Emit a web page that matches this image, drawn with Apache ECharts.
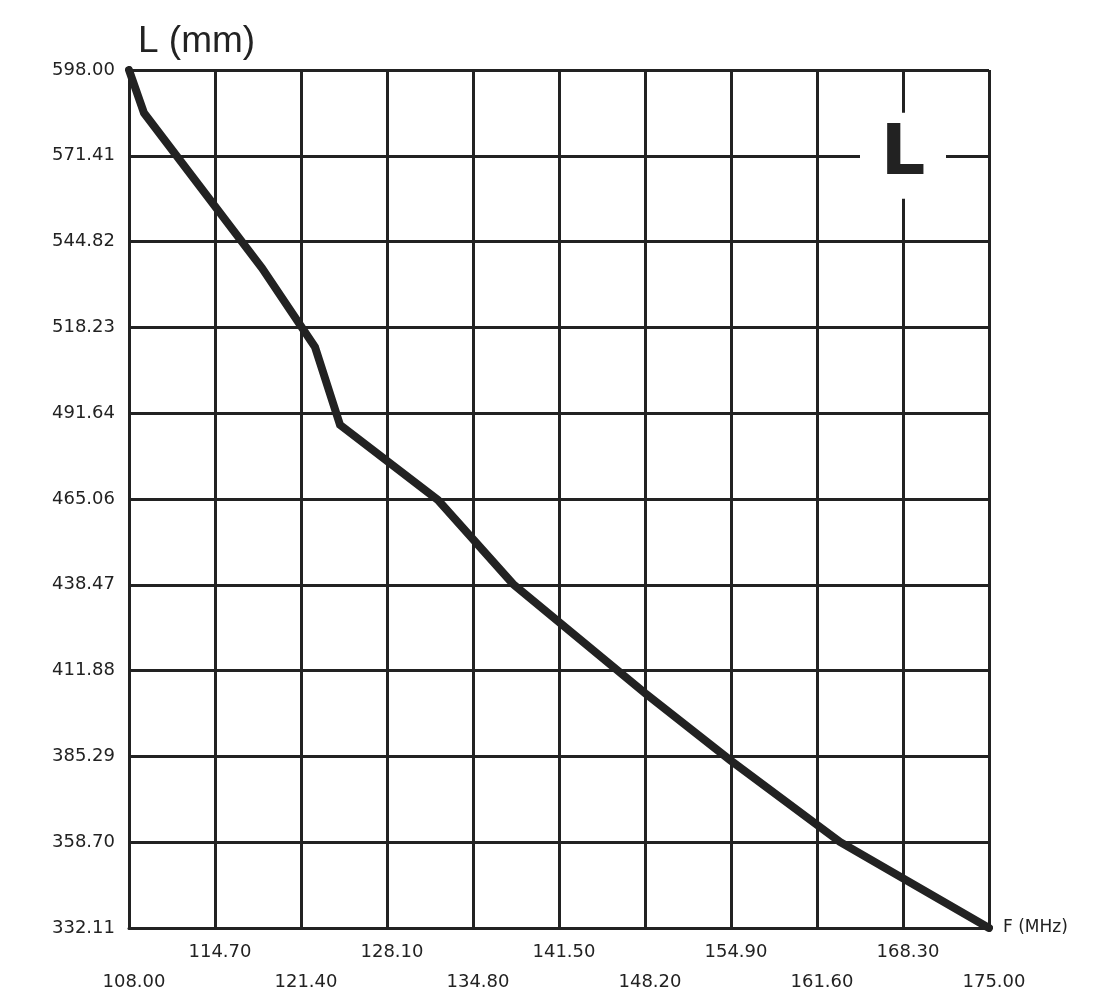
<!DOCTYPE html>
<html lang="en">
  <head>
    <meta charset="UTF-8" />
    <title>L vs F</title>
    <script src="https://cdn.jsdelivr.net/npm/echarts@6.0.0/dist/echarts.min.js"></script>
    <style>
      html, body { margin: 0; padding: 0; background: #fff; }
      #main { width: 1095px; height: 1000px; }
    </style>
  </head>
  <body>
    <div id="main"></div>

    <script>
      // F (MHz) and L (mm)
      const freq = [108.0, 109.17, 118.36, 122.49, 124.44, 132.07, 137.92, 148.2, 154.82, 163.39, 175.0];
      const length = [598.0, 584.67, 536.64, 512.16, 488.0, 464.74, 438.71, 404.93, 384.17, 358.76, 332.11];

      const xMin = 108.0, xMax = 175.0, xStep = 6.7;
      const yMin = 332.11, yMax = 598.0, yStep = 26.589;

      const ink = '#222222';
      const labelFont = '"DejaVu Sans", sans-serif';

      const gridLine = { show: true, lineStyle: { color: ink, width: 3 } };

      function xAxisRow(showOdd, offset) {
        return {
          type: 'value',
          min: xMin,
          max: xMax,
          interval: xStep,
          position: 'bottom',
          offset: offset,
          axisLine: { show: !offset, lineStyle: { color: ink, width: 3 } },
          axisTick: { show: false },
          splitLine: offset ? { show: false } : gridLine,
          axisLabel: {
            show: true,
            margin: 15,
            color: ink,
            fontSize: 18,
            fontFamily: labelFont,
            padding: [0, 0, 0, 10],
            showMinLabel: true,
            showMaxLabel: true,
            formatter: function (v) {
              const i = Math.round((v - xMin) / xStep);
              return (i % 2 === 1) === showOdd ? v.toFixed(2) : '';
            },
          },
        };
      }

      const options = {
        animation: false,
        backgroundColor: '#ffffff',
        grid: { left: 129, right: 106, top: 70, bottom: 72 },
        xAxis: [
          Object.assign(xAxisRow(true, 0), {
            name: 'F (MHz)',
            nameLocation: 'end',
            nameGap: 14,
            nameTextStyle: { color: ink, fontSize: 17, fontFamily: labelFont, verticalAlign: 'middle', padding: [0, 0, 0, 0] },
          }),
          xAxisRow(false, 30),
        ],
        yAxis: {
          type: 'value',
          min: yMin,
          max: yMax,
          interval: yStep,
          name: 'L (mm)',
          nameLocation: 'end',
          nameGap: 10,
          nameTextStyle: {
            color: ink,
            fontSize: 37,
            fontFamily: '"Liberation Sans", Arial, sans-serif',
            align: 'left',
            padding: [0, 0, 0, 9],
          },
          axisLine: { show: true, lineStyle: { color: ink, width: 3 } },
          axisTick: { show: false },
          splitLine: gridLine,
          axisLabel: {
            margin: 14,
            color: ink,
            fontSize: 18,
            fontFamily: labelFont,
            showMinLabel: true,
            showMaxLabel: true,
            formatter: (v) => v.toFixed(2),
          },
        },
        series: [
          {
            type: 'line',
            xAxisIndex: 0,
            data: freq.map((f, i) => [f, length[i]]),
            showSymbol: false,
            lineStyle: { color: ink, width: 8, cap: 'round', join: 'miter' },
            markPoint: {
              silent: true,
              symbol: 'rect',
              symbolSize: 86,
              itemStyle: { color: '#ffffff' },
              label: {
                show: true,
                formatter: 'L',
                color: ink,
                fontSize: 70,
                fontWeight: 'bold',
                fontFamily: '"DejaVu Sans", sans-serif',
              },
              data: [{ coord: [168.3, 571.41] }],
            },
          },
        ],
      };

      const myChart = echarts.init(document.getElementById('main'));
      myChart.setOption(options);
    </script>
  </body>
</html>
